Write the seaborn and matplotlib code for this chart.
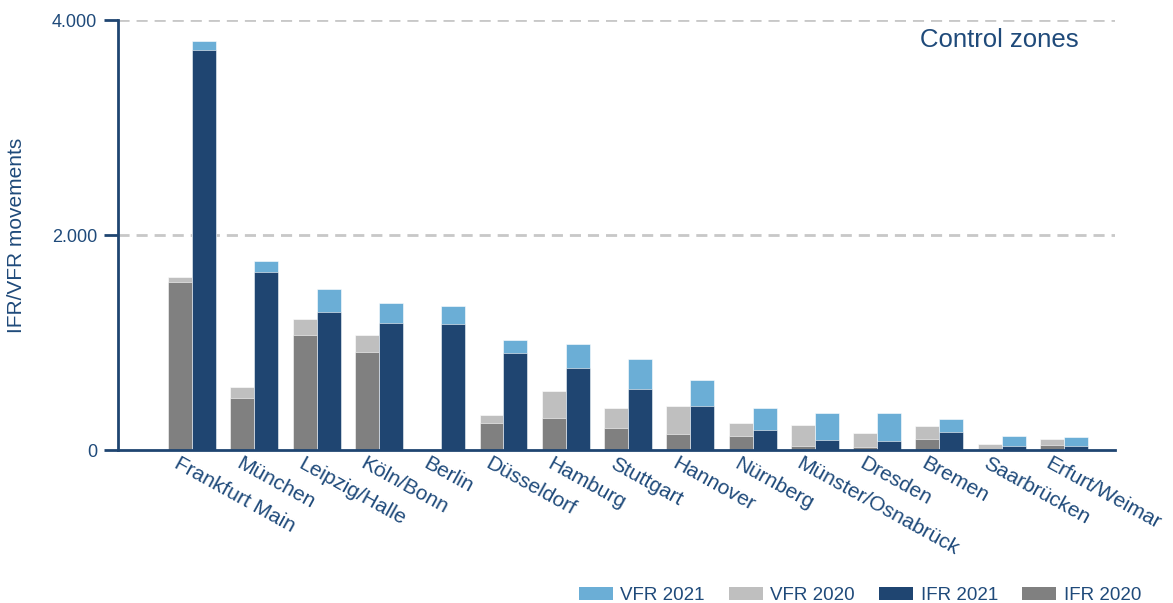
import matplotlib
matplotlib.use('Agg')
import matplotlib.pyplot as plt
import matplotlib.transforms as mtransforms
from matplotlib.patches import Patch
from matplotlib.ticker import FuncFormatter
import seaborn as sns
import pandas as pd

sns.set_theme(style="white")
plt.rcParams['font.family'] = ['Liberation Sans', 'DejaVu Sans']

cities = ["Frankfurt Main", "München", "Leipzig/Halle", "Köln/Bonn", "Berlin",
          "Düsseldorf", "Hamburg", "Stuttgart", "Hannover", "Nürnberg",
          "Münster/Osnabrück", "Dresden", "Bremen", "Saarbrücken", "Erfurt/Weimar"]
ifr_2020 = [1560, 487, 1066, 915, 0, 254, 298, 202, 146, 133, 37, 28, 99, 10, 46]
vfr_2020 = [50, 100, 150, 155, 0, 72, 251, 189, 263, 115, 195, 127, 121, 50, 59]
ifr_2021 = [3726, 1655, 1286, 1184, 1169, 905, 763, 564, 409, 186, 93, 84, 170, 34, 34]
vfr_2021 = [75, 100, 208, 180, 167, 115, 226, 279, 239, 205, 256, 257, 121, 96, 84]

navy = '#1f4571'
text_col = '#1f4a7a'
colors = {
    'VFR 2021': '#6baed6',
    'VFR 2020': '#bfbfbf',
    'IFR 2021': navy,
    'IFR 2020': '#808080',
}

df = pd.DataFrame({
    'city': cities * 2,
    'year': ['2020'] * len(cities) + ['2021'] * len(cities),
    'ifr': ifr_2020 + ifr_2021,
    'vfr': vfr_2020 + vfr_2021,
})
df['total'] = df['ifr'] + df['vfr']

fig = plt.figure(figsize=(11.73, 6.03), dpi=100)
ax = fig.add_axes([0.1006, 0.2537, 0.85, 0.713])

# total (IFR + VFR) first, then IFR on top of it -> stacked look
sns.barplot(data=df, x='city', y='total', hue='year', order=cities, hue_order=['2020', '2021'],
            palette={'2020': colors['VFR 2020'], '2021': colors['VFR 2021']},
            width=0.77, saturation=1, errorbar=None, legend=False,
            edgecolor='white', linewidth=0.4, ax=ax)
sns.barplot(data=df, x='city', y='ifr', hue='year', order=cities, hue_order=['2020', '2021'],
            palette={'2020': colors['IFR 2020'], '2021': colors['IFR 2021']},
            width=0.77, saturation=1, errorbar=None, legend=False,
            edgecolor='white', linewidth=0.4, ax=ax)

ax.set_ylim(0, 4000)
ax.set_xlim(-1.19, 14.82)
ax.set_yticks([0, 2000, 4000])
ax.yaxis.set_major_formatter(FuncFormatter(lambda v, p: '{:,.0f}'.format(v).replace(',', '.')))
for yv in [2000, 4000]:
    ax.axhline(yv, color='#c8c8c8', linestyle=(0, (4, 2.5)), linewidth=2, zorder=0)

for s in ['top', 'right']:
    ax.spines[s].set_visible(False)
for s in ['left', 'bottom']:
    ax.spines[s].set_color(navy)
    ax.spines[s].set_linewidth(2)

ax.tick_params(axis='y', direction='out', length=10, width=2, color=navy,
               labelcolor=text_col, labelsize=13, pad=5, left=True)
ax.tick_params(axis='x', length=0, labelcolor=text_col, labelsize=15, pad=3)

ax.set_xticks(range(len(cities)))
ax.set_xticklabels(cities, rotation=-29, ha='left', va='top', rotation_mode='anchor')
offset = mtransforms.ScaledTranslation(-12 / 100, 0, fig.dpi_scale_trans)
for lab in ax.get_xticklabels():
    lab.set_transform(lab.get_transform() + offset)

ax.set_xlabel('')
ax.set_ylabel('IFR/VFR movements', color=text_col, fontsize=15, labelpad=19)

ax.text(0.963, 0.982, 'Control zones', transform=ax.transAxes, ha='right', va='top',
        fontsize=18.5, color=text_col)

handles = [Patch(facecolor=colors[k], edgecolor='none', label=k) for k in colors]
leg = fig.legend(handles=handles, loc='lower right', bbox_to_anchor=(0.987, -0.03), ncol=4,
                 frameon=False, fontsize=13.5, handlelength=1.8, handleheight=0.7,
                 columnspacing=1.3, handletextpad=0.4)
for t in leg.get_texts():
    t.set_color(text_col)

fig.savefig('out.png', dpi=100)
